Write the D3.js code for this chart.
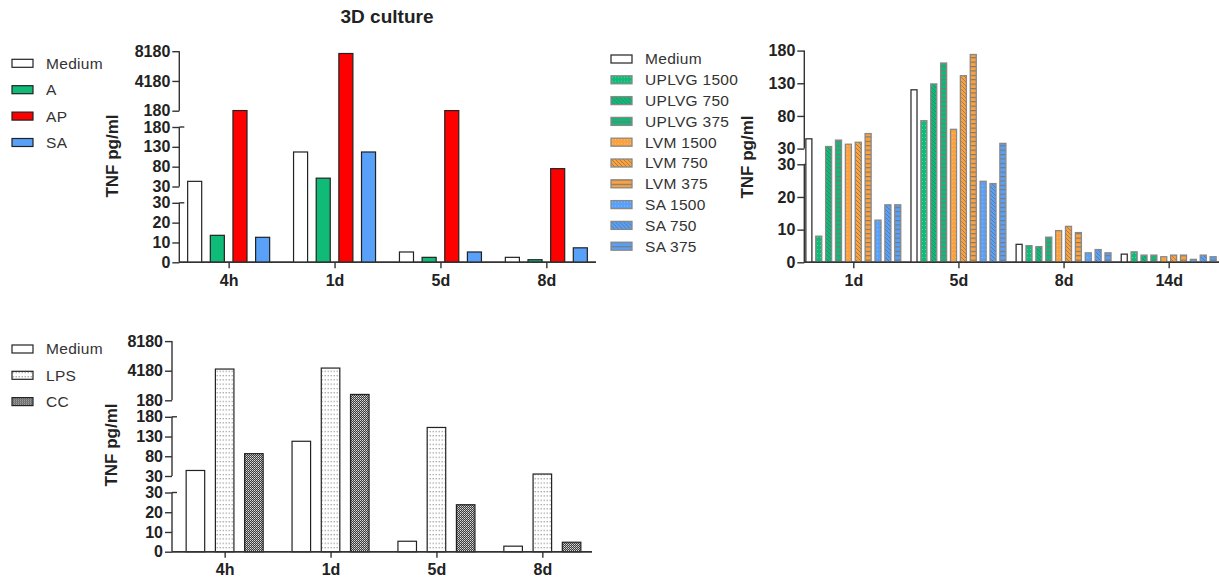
<!DOCTYPE html>
<html>
<head>
<meta charset="utf-8">
<title>TNF 3D culture</title>
<style>
  body { margin: 0; background: #fff; font-family: "Liberation Sans", Arial, sans-serif; }
  .tick text { font-family: "Liberation Sans", Arial, sans-serif; font-weight: bold; font-size: 16px; fill: #222; }
  .axis path, .axis line { stroke: #333; stroke-width: 1.4px; }
  .ylab { font-weight: bold; font-size: 17px; fill: #222; }
  .leg { font-size: 15.5px; fill: #333; letter-spacing: 0.3px; }
</style>
</head>
<body>
<script src="https://cdn.jsdelivr.net/npm/d3@7"></script>
<div id="chart"></div>
<script>
// ---- data ----
var segDomains = [[0, 30], [30, 180], [180, 8180]];
var segTicks = [[0, 10, 20, 30], [30, 80, 130, 180], [180, 4180, 8180]];

// panel A (top left)
var groupsA = ["4h", "1d", "5d", "8d"];
var seriesA = ["Medium", "A", "AP", "SA"];
var mediumA = [43, 117, 5.2, 2.5];
var aA = [13.6, 51, 2.5, 1.3];
var apA = [200, 7870, 195, 75];
var saA = [12.6, 117, 5.2, 7.3];

// panel B (top right)
var groupsB = ["1d", "5d", "8d", "14d"];
var seriesB = ["Medium", "UPLVG 1500", "UPLVG 750", "UPLVG 375", "LVM 1500", "LVM 750", "LVM 375", "SA 1500", "SA 750", "SA 375"];
var mediumB = [45, 120, 5.5, 2.5];
var uplvg1500 = [8.0, 72.7, 5.1, 3.2];
var uplvg750 = [33.2, 129, 4.8, 2.2];
var uplvg375 = [43, 161, 7.7, 2.2];
var lvm1500 = [36.7, 59.5, 9.7, 1.7];
var lvm750 = [39.7, 141.6, 11.0, 2.2];
var lvm375 = [53, 174, 9.1, 2.2];
var sa1500 = [12.9, 24.8, 2.9, 0.9];
var sa750 = [17.6, 24.1, 3.9, 2.2];
var sa375 = [17.6, 38, 2.9, 1.7];

// panel C (bottom left)
var groupsC = ["4h", "1d", "5d", "8d"];
var seriesC = ["Medium", "LPS", "CC"];
var mediumC = [44, 118, 5.3, 2.8];
var lpsC = [4404, 4536, 153, 35];
var ccC = [86.6, 972, 23.8, 4.8];

var green = "#10bb78", orange = "#fba13e", blue = "#58a0f8", red = "#ff0000";

var svg = d3.select("#chart").append("svg")
    .attr("width", 1220).attr("height", 582);

// ---- patterns ----
var defs = svg.append("defs");
function dotsPattern(id, col) {
  var p = defs.append("pattern").attr("id", id).attr("patternUnits", "userSpaceOnUse")
      .attr("width", 3).attr("height", 4);
  p.append("rect").attr("width", 3).attr("height", 4).attr("fill", col);
  p.append("rect").attr("x", 1).attr("y", 1).attr("width", 1).attr("height", 1).attr("fill", "#fff").attr("opacity", 0.3);
}
function diagPattern(id, col) {
  var p = defs.append("pattern").attr("id", id).attr("patternUnits", "userSpaceOnUse")
      .attr("width", 4).attr("height", 4);
  p.append("rect").attr("width", 4).attr("height", 4).attr("fill", col);
  p.append("path").attr("d", "M-1,-1L5,5M-1,3L1,5M3,-1L5,1")
      .attr("stroke", "#555").attr("stroke-opacity", 0.5).attr("stroke-width", 1);
}
function linesPattern(id, col) {
  var p = defs.append("pattern").attr("id", id).attr("patternUnits", "userSpaceOnUse")
      .attr("width", 6).attr("height", 4.4);
  p.append("rect").attr("width", 6).attr("height", 4.4).attr("fill", col);
  p.append("rect").attr("y", 0).attr("width", 6).attr("height", 1.1).attr("fill", "#777");
}
[["g", green], ["o", orange], ["b", blue]].forEach(function (c) {
  dotsPattern("dots-" + c[0], c[1]);
  diagPattern("diag-" + c[0], c[1]);
  linesPattern("lines-" + c[0], c[1]);
});
var lps = defs.append("pattern").attr("id", "lps").attr("patternUnits", "userSpaceOnUse")
    .attr("width", 3).attr("height", 4.3);
lps.append("rect").attr("width", 3).attr("height", 4.3).attr("fill", "#fff");
lps.append("rect").attr("x", 0.5).attr("y", 1).attr("width", 1.5).attr("height", 1).attr("fill", "#999");
var cc = defs.append("pattern").attr("id", "cc").attr("patternUnits", "userSpaceOnUse")
    .attr("width", 2).attr("height", 2);
cc.append("rect").attr("width", 2).attr("height", 2).attr("fill", "#3c3c3c");
cc.append("rect").attr("width", 1).attr("height", 1).attr("fill", "#ddd");
cc.append("rect").attr("x", 1).attr("y", 1).attr("width", 1).attr("height", 1).attr("fill", "#aaa");

// ---- helpers ----
function brokenScale(nSeg, y0, segH, gap) {
  var scales = [];
  for (var i = 0; i < nSeg; i++) {
    var bottom = y0 - i * (segH + gap);
    scales.push(d3.scaleLinear().domain(segDomains[i]).range([bottom, bottom - segH]));
  }
  var f = function (v) {
    for (var i = 0; i < scales.length; i++) {
      var d = scales[i].domain();
      if (v <= d[1] || i === scales.length - 1) return scales[i](Math.max(v, d[0]));
    }
  };
  f.segments = scales;
  return f;
}

function drawPanel(cfg) {
  var g = svg.append("g");
  var y = brokenScale(cfg.nSeg, cfg.y0, cfg.segH, cfg.gap);

  // y axis, one piece per segment
  y.segments.forEach(function (s, i) {
    var ax = g.append("g").attr("class", "axis")
        .attr("transform", "translate(" + cfg.axisX + ",0)")
        .call(d3.axisLeft(s).tickValues(segTicks[i]).tickSize(7).tickSizeOuter(0).tickFormat(d3.format("d")));
    ax.select(".domain").attr("d", "M0," + s.range()[0] + "V" + s.range()[1]);
    ax.selectAll(".tick text").attr("x", -9);
    if (i < cfg.nSeg - 1) {
      ax.append("line").attr("x1", 0).attr("x2", 5)
          .attr("y1", s.range()[1]).attr("y2", s.range()[1]);
    }
  });

  var x = d3.scalePoint().domain(cfg.groups).range(cfg.xRange).padding(0.45);
  var inner = d3.scaleBand().domain(cfg.series)
      .range([-cfg.innerW / 2, cfg.innerW / 2]).paddingInner(cfg.innerPad).paddingOuter(0);

  var xa = g.append("g").attr("class", "axis")
      .attr("transform", "translate(0," + cfg.y0 + ")")
      .call(d3.axisBottom(x).tickSize(6).tickSizeOuter(0));
  xa.select(".domain").attr("d", "M" + cfg.axisX + ",0H" + cfg.axisEnd);
  xa.selectAll(".tick text").attr("y", 12);

  var rows = [];
  cfg.groups.forEach(function (grp, gi) {
    cfg.series.forEach(function (s, si) {
      rows.push({ g: grp, s: s, v: cfg.values[si][gi], si: si });
    });
  });

  g.append("g").selectAll("rect").data(rows).enter().append("rect")
      .attr("x", function (d) { return x(d.g) + inner(d.s); })
      .attr("width", inner.bandwidth())
      .attr("y", function (d) { return y(d.v); })
      .attr("height", function (d) { return cfg.y0 - y(d.v); })
      .attr("fill", function (d) { return cfg.fills[d.si]; })
      .attr("stroke", function (d) { return cfg.strokes[d.si]; })
      .attr("stroke-width", cfg.strokeW);

  // redraw baseline over bars
  g.append("line").attr("x1", cfg.axisX).attr("x2", cfg.axisEnd)
      .attr("y1", cfg.y0).attr("y2", cfg.y0).attr("stroke", "#333").attr("stroke-width", 1.4);

  g.append("text").attr("class", "ylab")
      .attr("transform", "translate(" + cfg.labX + "," + cfg.labY + ") rotate(-90)")
      .attr("text-anchor", "middle").attr("dy", "0.35em").text("TNF pg/ml");

  // legend
  var leg = g.append("g").selectAll("g").data(cfg.series).enter().append("g")
      .attr("transform", function (d, i) { return "translate(" + cfg.legX + "," + (cfg.legY + i * cfg.legStep) + ")"; });
  leg.append("rect").attr("x", 0).attr("y", -4).attr("width", 21).attr("height", 8)
      .attr("fill", function (d, i) { return cfg.fills[i]; })
      .attr("stroke", function (d, i) { return cfg.strokes[i]; })
      .attr("stroke-width", cfg.strokeW);
  leg.append("text").attr("class", "leg").attr("x", 34).attr("dy", "0.35em").text(function (d) { return d; });
}

// ---- panels ----
drawPanel({
  groups: groupsA, series: seriesA, values: [mediumA, aA, apA, saA],
  nSeg: 3, y0: 262.3, segH: 59.5, gap: 16.3,
  axisX: 179.3, axisEnd: 596, xRange: [181, 594],
  innerW: 82, innerPad: 0.38,
  fills: ["#fff", green, red, blue], strokes: ["#222", "#222", "#222", "#222"], strokeW: 1.2,
  labX: 112, labY: 156,
  legX: 12, legY: 63.3, legStep: 26.4
});

drawPanel({
  groups: groupsB, series: seriesB,
  values: [mediumB, uplvg1500, uplvg750, uplvg375, lvm1500, lvm750, lvm375, sa1500, sa750, sa375],
  nSeg: 2, y0: 262.3, segH: 98, gap: 15.7,
  axisX: 804.3, axisEnd: 1219, xRange: [806, 1216],
  innerW: 94.9, innerPad: 0.39,
  fills: ["#fff", "url(#dots-g)", "url(#diag-g)", "url(#lines-g)", "url(#dots-o)", "url(#diag-o)", "url(#lines-o)", "url(#dots-b)", "url(#diag-b)", "url(#lines-b)"],
  strokes: ["#333", "#888", "#888", "#888", "#888", "#888", "#888", "#888", "#888", "#888"], strokeW: 1.3,
  labX: 747, labY: 157,
  legX: 611, legY: 59, legStep: 20.8
});

drawPanel({
  groups: groupsC, series: seriesC, values: [mediumC, lpsC, ccC],
  nSeg: 3, y0: 551.7, segH: 59.2, gap: 16.5,
  axisX: 172, axisEnd: 592, xRange: [177, 590],
  innerW: 77, innerPad: 0.366,
  fills: ["#fff", "url(#lps)", "url(#cc)"], strokes: ["#222", "#222", "#222"], strokeW: 1.2,
  labX: 111, labY: 445,
  legX: 12, legY: 349, legStep: 26.3
});

svg.append("text").attr("x", 387).attr("y", 22.5).attr("text-anchor", "middle")
    .style("font-weight", "bold").style("font-size", "19px").style("fill", "#222")
    .text("3D culture");
</script>
</body>
</html>
